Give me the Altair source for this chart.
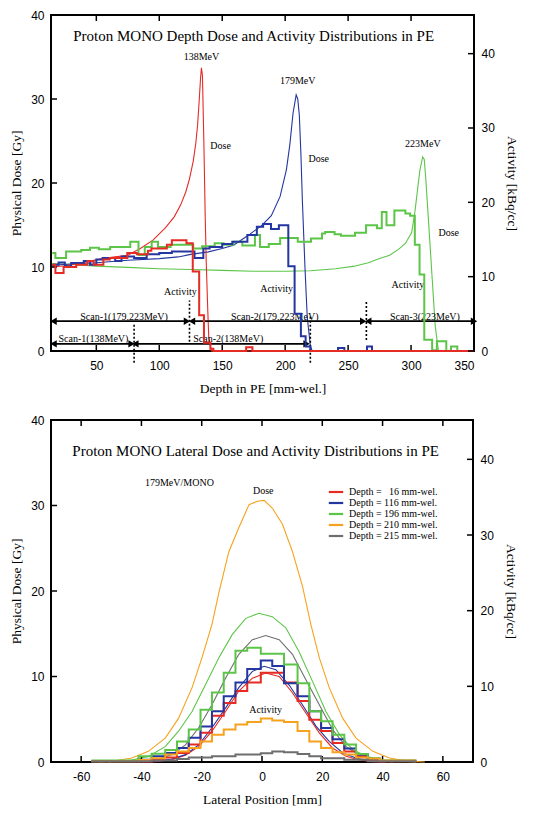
import altair as alt
import pandas as pd

# ---------------- top panel: depth distributions ----------------
TOP_SERIES = ["138MeV", "179MeV", "223MeV"]
TOP_COLORS = ["#e62a24", "#2436a0", "#5cc548"]

RED_DOSE_X = [15, 25, 35, 45, 55, 65, 75, 85, 95, 105, 112, 117, 121, 124, 127, 129, 130.5,
              131.7, 132.8, 133.5, 134.3, 135.5, 136.5, 137.3, 138.5, 139.3, 141.4, 350]
RED_DOSE_Y = [10.0, 10.15, 10.4, 10.7, 11.0, 11.2, 11.4, 12.2, 13.2, 14.7, 16.0, 17.4, 18.9, 20.5,
              22.6, 24.7, 27.0, 29.8, 32.5, 33.7, 32.8, 24.3, 16.0, 10.6, 5.0, 1.6, 0.0, 0.0]

BLUE_DOSE_X = [15, 30, 50, 75, 100, 115, 125, 139, 150, 159, 171, 181, 189, 196, 201, 203.75,
               206.25, 208.75, 210, 211.25, 212.5, 213.75, 215.75, 217.5, 220, 221.5, 350]
BLUE_DOSE_Y = [10.2, 10.35, 10.5, 10.8, 11.0, 11.2, 11.5, 11.8, 12.2, 12.6, 13.8, 14.9, 16.1, 18.4,
               21.6, 24.6, 28.3, 30.5, 30.0, 28.1, 23.5, 17.6, 9.9, 4.1, 0.6, 0.0, 0.0]

GREEN_DOSE_X = [15, 30, 50, 75, 100, 125, 150, 175, 200, 220, 240, 255, 266, 275, 283, 290,
                295.5, 300.5, 303, 305, 307, 309.25, 310.5, 311.75, 314.25, 316.75, 319.25, 321.75, 350]
GREEN_DOSE_Y = [10.4, 10.3, 10.1, 9.95, 9.8, 9.7, 9.6, 9.5, 9.5, 9.55, 9.8, 10.1, 10.5, 11.0, 11.4, 12.1,
                12.8, 14.1, 16.5, 19.0, 21.5, 23.1, 22.8, 20.4, 14.6, 8.7, 2.9, 0.0, 0.0]

# activity histograms (bin edges, value per bin) [kBq/cc]
RED_ACT_EDGES = [15, 17.5, 24, 34, 43, 48, 55.6, 60.7, 74.6, 82.2, 91, 93.7, 106, 110, 121.6,
                 126.6, 131.7, 135.5, 140.6, 143, 169, 174, 350]
RED_ACT_VALS = [11.6, 10.5, 11.3, 11.6, 12.1, 11.6, 12.3, 12.5, 13.2, 13.0, 13.5, 13.8, 14.3, 14.9,
                14.5, 10.7, 4.8, 1.1, 0.3, 0.0, 0.5, 0.0]

BLUE_ACT_EDGES = [15, 20, 25, 30, 40, 45, 50, 55, 65, 70, 80, 90, 100, 110, 128, 135, 140, 150, 158,
                  170, 177.5, 182.5, 188.75, 195, 202.5, 207.5, 212.5, 216.25, 220, 242, 247, 265, 269, 350]
BLUE_ACT_VALS = [11.6, 11.9, 11.4, 11.85, 12.1, 11.6, 12.3, 12.5, 12.1, 12.7, 12.5, 13.0, 13.2, 13.4,
                 12.5, 13.8, 14.0, 14.4, 14.7, 15.6, 16.7, 17.1, 16.4, 16.9, 11.4, 5.0, 2.0, 0.6, 0.0,
                 0.4, 0.0, 0.6, 0.0]

GREEN_ACT_EDGES = [15, 17.5, 26, 38, 45, 52, 61, 77, 83.5, 88.5, 94, 99, 109, 127, 134, 144, 151, 159,
                   166, 176, 180, 187, 196, 210, 220.5, 229.25, 231.75, 239.25, 244.25, 255.5, 264.25,
                   273, 276.75, 280.5, 286.75, 295.5, 299.25, 303, 306.75, 310.5, 316.75, 320.5, 328,
                   331.75, 336.75, 343]
GREEN_ACT_VALS = [13.2, 12.5, 13.4, 13.6, 13.9, 13.7, 14.0, 14.7, 12.9, 14.0, 14.7, 14.0, 14.3, 13.8,
                  14.1, 14.5, 14.3, 14.7, 14.2, 15.6, 14.0, 14.4, 15.2, 14.7, 15.15, 15.8, 16.0, 15.7,
                  15.5, 15.9, 16.9, 16.5, 18.7, 16.9, 18.9, 18.5, 18.2, 14.3, 10.3, 1.5, 0.1, 1.3, 0.0,
                  0.6, 0.0]

TOP_TITLE = "Proton MONO Depth Dose and Activity Distributions in PE"
TOP_TITLE_X, TOP_TITLE_Y = 175, 37.55
TOP_NOTE_TEXT = ["138MeV", "179MeV", "223MeV", "Dose", "Dose", "Dose", "Activity", "Activity", "Activity"]
TOP_NOTE_X = [133.5, 210, 309.4, 148.7, 226.7, 329.9, 116.8, 193.2, 297.5]
TOP_NOTE_Y = [35.0, 32.1, 24.6, 24.4, 22.8, 14.0, 7.0, 7.35, 7.8]

SCAN_LABELS = ["Scan-1(179,223MeV)", "Scan-2(179,223MeV)", "Scan-3(223MeV)", "Scan-1(138MeV)", "Scan-2(138MeV)"]
SCAN_LABEL_X = [72, 191.7, 311, 47.7, 154.8]
SCAN_LABEL_Y = [4.08, 4.08, 4.08, 1.43, 1.43]
ARROW_X1 = [16, 126, 266, 16, 81]
ARROW_X2 = [122, 262, 350, 78, 217]
ARROW_Y = [3.55, 3.55, 3.55, 0.85, 0.85]
DOT_X = [80, 124, 220, 264.5]
DOT_Y1 = [-1.4, 1.1, -1.4, 1.3]
DOT_Y2 = [3.3, 6.0, 4.2, 6.0]

TOP_X_TICKS = [50, 100, 150, 200, 250, 300, 350]
Y_TICKS = [0, 10, 20, 30, 40]

# ---------------- bottom panel: lateral distributions ----------------
LAT_LABELS = ["Depth = \u200716 mm-wel.", "Depth = 116 mm-wel.", "Depth = 196 mm-wel.",
              "Depth = 210 mm-wel.", "Depth = 215 mm-wel."]
LAT_COLORS = ["#e62a24", "#2436a0", "#5cc548", "#f6a21e", "#6e6e6e"]

LAT_RED_X = [-40, -35.4, -29.9, -25.4, -21, -16.6, -12.1, -7.7, -3.2, 1.2, 5.7, 10.1, 14.6, 19, 23.4, 27.9, 32.3, 36.8, 41]
LAT_RED_Y = [0, 0.04, 0.27, 0.78, 1.8, 3.6, 5.9, 8.3, 9.8, 10.4, 10.0, 8.1, 5.7, 3.4, 1.64, 0.66, 0.23, 0.04, 0]
LAT_BLUE_X = [-40, -35.4, -29.9, -25.4, -21, -16.6, -12.1, -7.7, -3.2, 0.7, 4.6, 9, 13.4, 17.9, 22.3, 26.8, 31.2, 35.7, 40.1]
LAT_BLUE_Y = [0, 0.08, 0.35, 0.86, 2.0, 4.0, 6.3, 8.7, 10.6, 11.2, 10.8, 9.0, 6.7, 4.2, 2.4, 1.05, 0.47, 0.12, 0]
LAT_GREEN_X = [-51, -43.2, -37.7, -32.1, -27.7, -23.2, -18.8, -14.3, -9.9, -5.4, -1.0, 3.4, 7.9, 12.3, 16.8, 21.2, 25.7, 30.1, 34.6, 40.1, 51.2]
LAT_GREEN_Y = [0, 0.23, 0.66, 1.8, 3.6, 5.9, 9.0, 12.2, 14.9, 16.8, 17.4, 17.0, 15.7, 12.9, 9.4, 5.9, 3.2, 1.44, 0.66, 0.2, 0]
LAT_ORANGE_X = [-54, -48.8, -43.2, -37.7, -32.1, -27.7, -23.2, -19.9, -16.6, -14.3, -11.0, -7.7, -4.3, -1.5, 0.7,
                3.4, 6.8, 10.1, 13.4, 16.2, 19.0, 22.3, 26.8, 31.2, 36.8, 42.3, 47.9, 54]
LAT_ORANGE_Y = [0.0, 0.15, 0.47, 1.25, 2.8, 5.1, 8.7, 12.2, 16.1, 19.8, 24.6, 27.4, 30.1, 30.5, 30.6,
                29.7, 27.8, 24.6, 20.6, 16.1, 12.2, 8.7, 5.1, 2.8, 1.25, 0.47, 0.1, 0.0]
LAT_GRAY_X = [-41, -35.4, -29.9, -25.4, -21, -16.6, -12.1, -7.7, -3.2, 1.2, 5.7, 10.1, 14.6, 19, 23.4, 27.9, 32.3, 37.9, 43.4]
LAT_GRAY_Y = [0, 0.27, 0.86, 2.0, 4.0, 6.7, 9.8, 12.6, 14.3, 14.8, 14.3, 12.6, 9.6, 6.7, 3.8, 1.8, 0.78, 0.23, 0]

LAT_EDGES = [-56.6, -41.0, -36.6, -32.1, -28.2, -24.3, -20.4, -16.6, -12.7, -8.8, -4.9, -0.4, 3.4, 7.3,
             11.8, 15.7, 19.6, 23.4, 27.3, 31.2, 35.1, 39.0, 51.2]
LAT_RED_ACT = [0.1, 0.1, 0.3, 0.6, 1.2, 2.3, 3.85, 6.1, 7.8, 9.4, 10.5, 11.8, 11.8, 10.5, 8.05, 5.6, 4.1, 2.5, 1.4, 0.75, 0.3, 0.1]
LAT_BLUE_ACT = [0.1, 0.3, 0.75, 1.2, 1.86, 3.2, 4.7, 6.7, 8.7, 10.5, 12.3, 13.4, 12.7, 10.4, 8.7, 6.7, 4.5, 3.0, 1.8, 1.0, 0.44, 0.15]
LAT_GREEN_ACT = [0.2, 0.75, 1.1, 1.6, 2.7, 4.3, 6.9, 9.2, 11.8, 14.7, 15.1, 14.3, 14.3, 12.9, 10.4, 6.7, 5.4, 3.6, 2.3, 1.06, 0.5, 0.2]
LAT_ORANGE_ACT = [0.1, 0.25, 0.5, 1.0, 1.4, 1.86, 2.7, 3.6, 4.3, 4.95, 5.3, 5.75, 5.5, 5.3, 4.1, 2.7, 1.86, 1.3, 1.0, 0.6, 0.45, 0.2]
LAT_GRAY_ACT = [0.1, 0.1, 0.2, 0.2, 0.4, 0.6, 0.6, 0.75, 0.75, 1.0, 1.0, 1.15, 1.4, 1.3, 1.06, 0.75, 0.5, 0.5, 0.3, 0.3, 0.1, 0.1]

BOT_TITLE = "Proton MONO Lateral Dose and Activity Distributions in PE"
BOT_NOTE_TEXT = ["179MeV/MONO", "Dose", "Activity"]
BOT_NOTE_X = [-27.4, 0.4, 1.2]
BOT_NOTE_Y = [32.6, 31.7, 6.1]
BOT_TITLE_X, BOT_TITLE_Y = -2.1, 36.4
BOT_X_TICKS = [-60, -40, -20, 0, 20, 40, 60]

# ---------------- helpers ----------------
SERIF = "Liberation Serif"
W1, H1 = 423, 336
W2, H2 = 422, 342
TICK = 6
PLAIN_LABEL = "'' + datum.value"   # ASCII hyphen for negative numbers


def curve(xs, ys, name):
    return pd.DataFrame({"x": xs, "y": ys, "s": name})


def steps(edges, vals, name):
    assert len(edges) == len(vals) + 1
    return pd.DataFrame({"x": edges, "y": list(vals) + [vals[-1]], "s": name})


def panel(dose_df, act_df, xscale, xticks, xtitle, cdomain, crange, legend, W, H, extra):
    ydose = alt.Scale(domain=[0, 40], nice=False, zero=False)
    yact = alt.Scale(domain=[0, 45.2], nice=False, zero=False)
    cscale = alt.Scale(domain=cdomain, range=crange)
    x_axis = alt.Axis(values=xticks, title=xtitle, labelPadding=9, titlePadding=10, labelExpr=PLAIN_LABEL)
    dose_axis = alt.Axis(orient="left", values=Y_TICKS, title="Physical Dose [Gy]",
                         labelPadding=7, titlePadding=7, labelExpr=PLAIN_LABEL)
    act_axis = alt.Axis(orient="right", values=Y_TICKS, title="Activity [kBq/cc]",
                        labelPadding=7, titlePadding=10, labelExpr=PLAIN_LABEL)
    X = lambda f: alt.X(f, scale=xscale, axis=x_axis)
    YD = lambda f: alt.Y(f, scale=ydose, axis=dose_axis)
    YA = lambda f: alt.Y(f, scale=yact, axis=act_axis)

    lines = alt.Chart(dose_df).mark_line(strokeWidth=1.1).encode(
        x=X("x:Q"), y=YD("y:Q"), color=alt.Color("s:N", scale=cscale, legend=legend))
    tdf = pd.DataFrame({"t": xticks})
    ydf = pd.DataFrame({"t": Y_TICKS})
    xt_bot = alt.Chart(tdf).mark_rule(color="black", strokeWidth=1.5).encode(
        x=X("t:Q"), y=alt.value(H), y2=alt.value(H - TICK))
    xt_top = alt.Chart(tdf).mark_rule(color="black", strokeWidth=1.5).encode(
        x=X("t:Q"), y=alt.value(0), y2=alt.value(TICK))
    yt_left = alt.Chart(ydf).mark_rule(color="black", strokeWidth=1.5).encode(
        y=YD("t:Q"), x=alt.value(0), x2=alt.value(TICK))
    dose_group = alt.layer(lines, *extra(X, YD), xt_bot, xt_top, yt_left)

    hist = alt.Chart(act_df).mark_line(strokeWidth=2, interpolate="step-after").encode(
        x=X("x:Q"), y=YA("y:Q"), color=alt.Color("s:N", scale=cscale, legend=None))
    yt_right = alt.Chart(ydf).mark_rule(color="black", strokeWidth=1.5).encode(
        y=YA("t:Q"), x=alt.value(W), x2=alt.value(W - TICK))
    act_group = alt.layer(hist, yt_right)

    return alt.layer(dose_group, act_group).resolve_scale(y="independent").properties(width=W, height=H)


# ---------------- top panel ----------------
top_dose = pd.concat([curve(GREEN_DOSE_X, GREEN_DOSE_Y, "223MeV"),
                      curve(BLUE_DOSE_X, BLUE_DOSE_Y, "179MeV"),
                      curve(RED_DOSE_X, RED_DOSE_Y, "138MeV")], ignore_index=True)
top_act = pd.concat([steps(GREEN_ACT_EDGES, GREEN_ACT_VALS, "223MeV"),
                     steps(BLUE_ACT_EDGES, BLUE_ACT_VALS, "179MeV"),
                     steps(RED_ACT_EDGES, RED_ACT_VALS, "138MeV")], ignore_index=True)


def top_extra(X, Y):
    notes = pd.DataFrame({"x": TOP_NOTE_X, "y": TOP_NOTE_Y, "t": TOP_NOTE_TEXT})
    title = pd.DataFrame({"x": [TOP_TITLE_X], "y": [TOP_TITLE_Y], "t": [TOP_TITLE]})
    scan = pd.DataFrame({"x": SCAN_LABEL_X, "y": SCAN_LABEL_Y, "t": SCAN_LABELS})
    arrows = pd.DataFrame({"x1": ARROW_X1, "x2": ARROW_X2, "y": ARROW_Y})
    heads = pd.DataFrame({"x": ARROW_X1 + ARROW_X2, "y": ARROW_Y + ARROW_Y,
                          "shape": ["triangle-left"] * len(ARROW_X1) + ["triangle-right"] * len(ARROW_X2)})
    dots = pd.DataFrame({"x": DOT_X, "y1": DOT_Y1, "y2": DOT_Y2})
    return [
        alt.Chart(notes).mark_text(font=SERIF, fontSize=10, color="black").encode(x=X("x:Q"), y=Y("y:Q"), text="t:N"),
        alt.Chart(title).mark_text(font=SERIF, fontSize=15, color="black").encode(x=X("x:Q"), y=Y("y:Q"), text="t:N"),
        alt.Chart(arrows).mark_rule(color="black", strokeWidth=1.8).encode(x=X("x1:Q"), x2="x2:Q", y=Y("y:Q")),
        alt.Chart(heads).mark_point(filled=True, color="black", size=55, opacity=1).encode(
            x=X("x:Q"), y=Y("y:Q"), shape=alt.Shape("shape:N", scale=None)),
        alt.Chart(scan).mark_text(font=SERIF, fontSize=10, color="black").encode(x=X("x:Q"), y=Y("y:Q"), text="t:N"),
        alt.Chart(dots).mark_rule(color="black", strokeWidth=1.6, strokeDash=[2, 2]).encode(
            x=X("x:Q"), y=Y("y1:Q"), y2="y2:Q"),
    ]


top = panel(top_dose, top_act, alt.Scale(domain=[14, 350], nice=False, zero=False), TOP_X_TICKS,
            "Depth in PE [mm-wel.]", TOP_SERIES, TOP_COLORS, None, W1, H1, top_extra)

# ---------------- bottom panel ----------------
bot_dose = pd.concat([curve(LAT_RED_X, LAT_RED_Y, LAT_LABELS[0]),
                      curve(LAT_BLUE_X, LAT_BLUE_Y, LAT_LABELS[1]),
                      curve(LAT_GREEN_X, LAT_GREEN_Y, LAT_LABELS[2]),
                      curve(LAT_ORANGE_X, LAT_ORANGE_Y, LAT_LABELS[3]),
                      curve(LAT_GRAY_X, LAT_GRAY_Y, LAT_LABELS[4])], ignore_index=True)
bot_act = pd.concat([steps(LAT_EDGES, LAT_RED_ACT, LAT_LABELS[0]),
                     steps(LAT_EDGES, LAT_BLUE_ACT, LAT_LABELS[1]),
                     steps(LAT_EDGES, LAT_GREEN_ACT, LAT_LABELS[2]),
                     steps(LAT_EDGES, LAT_ORANGE_ACT, LAT_LABELS[3]),
                     steps(LAT_EDGES, LAT_GRAY_ACT, LAT_LABELS[4])], ignore_index=True)


def bot_extra(X, Y):
    notes = pd.DataFrame({"x": BOT_NOTE_X, "y": BOT_NOTE_Y, "t": BOT_NOTE_TEXT})
    title = pd.DataFrame({"x": [BOT_TITLE_X], "y": [BOT_TITLE_Y], "t": [BOT_TITLE]})
    return [
        alt.Chart(notes).mark_text(font=SERIF, fontSize=10, color="black").encode(x=X("x:Q"), y=Y("y:Q"), text="t:N"),
        alt.Chart(title).mark_text(font=SERIF, fontSize=15, color="black").encode(x=X("x:Q"), y=Y("y:Q"), text="t:N"),
    ]


legend = alt.Legend(orient="none", legendX=279, legendY=66, title=None, symbolType="M-1.6,0H1.6",
                    symbolSize=81, symbolStrokeWidth=2.2, labelFont=SERIF, labelFontSize=10,
                    labelOffset=7, rowPadding=0, padding=0, labelColor="black")

bottom = panel(bot_dose, bot_act, alt.Scale(domain=[-70, 70], nice=False, zero=False), BOT_X_TICKS,
               "Lateral Position [mm]", LAT_LABELS, LAT_COLORS, legend, W2, H2, bot_extra)

chart = alt.vconcat(top, bottom, spacing=17).resolve_scale(
    x="independent", y="independent", color="independent"
).properties(padding=0).configure_view(
    stroke="black", strokeWidth=2
).configure_axis(
    grid=False, domain=False, ticks=False, tickSize=0,
    labelFont="Liberation Sans", labelFontSize=12, labelColor="black",
    titleFont=SERIF, titleFontSize=13.5, titleFontWeight="normal", titleColor="black",
)

chart.save("out.html", embed_options={"renderer": "svg", "actions": False})
